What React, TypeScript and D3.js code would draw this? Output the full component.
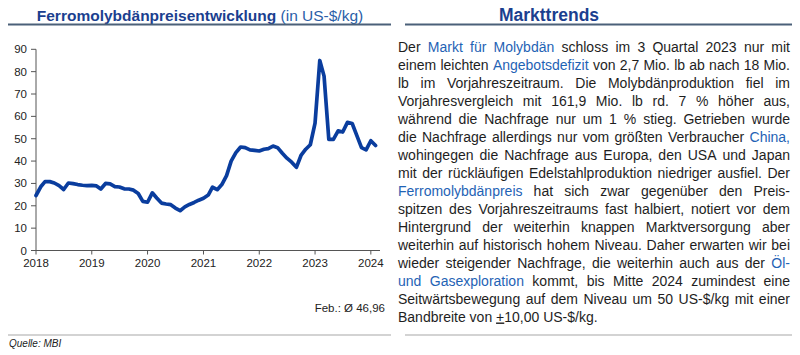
import React, { useMemo } from "react";
import * as d3 from "d3";

const years = ["2018", "2019", "2020", "2021", "2022", "2023", "2024"];
const yTicks = [0, 10, 20, 30, 40, 50, 60, 70, 80, 90];
const startYear = 2018;
// monthly ferromolybdenum price (US-$/kg), Jan 2018 .. Feb 2024
const prices = [
  24.6, 28.5, 30.8, 30.8, 30.2, 29.0, 27.3, 30.2, 29.9, 29.5, 29.2, 29.0,
  29.1, 28.9, 27.5, 30.0, 29.8, 28.6, 28.4, 27.6, 27.5, 27.0, 25.5, 22.0,
  21.6, 25.8, 23.5, 21.2, 20.8, 20.5, 19.0, 17.8, 19.5, 20.6, 21.5, 22.5,
  23.4, 24.8, 28.3, 27.2, 29.5, 33.5, 40.0, 43.8, 46.3, 46.0, 45.0, 44.8,
  44.5, 45.3, 45.6, 46.7, 46.0, 43.5, 41.3, 39.5, 37.2, 42.5, 45.3, 47.3,
  57.0, 85.0, 78.0, 49.7, 49.7, 53.5, 53.0, 57.3, 56.8, 51.5, 46.0, 45.0,
  49.1, 46.96,
];

const chartTitle = "Ferromolybdänpreisentwicklung";
const chartUnit = " (in US-$/kg)";
const lastLabel = "Feb.: Ø 46,96";
const source = "Quelle: MBI";
const sideTitle = "Markttrends";

// text lines; segments marked with * are blue, _ underlined
const paragraph = [
  "Der *Markt für Molybdän* schloss im 3 Quartal 2023 nur mit",
  "einem leichten *Angebotsdefizit* von 2,7 Mio. lb ab nach 18 Mio.",
  "lb im Vorjahreszeitraum. Die Molybdänproduktion fiel im",
  "Vorjahresvergleich mit 161,9 Mio. lb rd. 7 % höher aus,",
  "während die Nachfrage nur um 1 % stieg. Getrieben wurde",
  "die Nachfrage allerdings nur vom größten Verbraucher *China,*",
  "wohingegen die Nachfrage aus Europa, den USA und Japan",
  "mit der rückläufigen Edelstahlproduktion niedriger ausfiel. Der",
  "*Ferromolybdänpreis* hat sich zwar gegenüber den Preis-",
  "spitzen des Vorjahreszeitraums fast halbiert, notiert vor dem",
  "Hintergrund der weiterhin knappen Marktversorgung aber",
  "weiterhin auf historisch hohem Niveau. Daher erwarten wir bei",
  "wieder steigender Nachfrage, die weiterhin auch aus der *Öl-*",
  "*und Gasexploration* kommt, bis Mitte 2024 zumindest eine",
  "Seitwärtsbewegung auf dem Niveau um 50 US-$/kg mit einer",
  "Bandbreite von _+_10,00 US-$/kg.",
];

const FONT = "'Liberation Sans', Arial, sans-serif";
const BLUE_TEXT = "#1f63b5";
const LINE_BLUE = "#0a3d9e";

type Word = { parts: { t: string; blue: boolean; ul: boolean }[]; w: number };

function parseLine(line: string, measure: (s: string) => number): Word[] {
  const words: Word[] = [];
  let blue = false;
  let ul = false;
  let cur: Word = { parts: [], w: 0 };
  let buf = "";
  const flush = () => {
    if (buf) {
      cur.parts.push({ t: buf, blue, ul });
      buf = "";
    }
  };
  for (const ch of line) {
    if (ch === "*") {
      flush();
      blue = !blue;
    } else if (ch === "_") {
      flush();
      ul = !ul;
    } else if (ch === " ") {
      flush();
      if (cur.parts.length) words.push(cur);
      cur = { parts: [], w: 0 };
    } else buf += ch;
  }
  flush();
  if (cur.parts.length) words.push(cur);
  words.forEach((w) => (w.w = measure(w.parts.map((p) => p.t).join(""))));
  return words;
}

export default function App() {
  const W = 800;
  const H = 355;

  const x = d3
    .scaleTime()
    .domain([new Date(2018, 0, 1), new Date(2024, 2, 1)])
    .range([36, 380]);
  const y = d3.scaleLinear().domain([0, 90]).range([250.5, 49.3]);

  const data = prices.map((v, i) => ({
    d: new Date(startYear, i, 1),
    v,
  }));
  const line = d3
    .line<{ d: Date; v: number }>()
    .x((p) => x(p.d))
    .y((p) => y(p.v))
    .curve(d3.curveLinear);

  const fontSize = 14;
  const measure = useMemo(() => {
    const c = document.createElement("canvas").getContext("2d")!;
    c.font = `${fontSize}px ${FONT}`;
    return (s: string) => c.measureText(s).width;
  }, []);
  const spaceW = measure(" ");

  const tx0 = 398;
  const tx1 = 790;
  const ty0 = 51.5;
  const lh = 18;

  return (
    <svg width={W} height={H} style={{ position: "absolute", left: 0, top: 0, background: "#fff" }} fontFamily={FONT}>
      {/* left title */}
      <text x={200} y={21} textAnchor="middle" fontSize={15.5}>
        <tspan fill="#1b3f8f" fontWeight="bold">{chartTitle}</tspan>
        <tspan fill="#2a5ea8">{chartUnit}</tspan>
      </text>
      <line x1={8} x2={391} y1={24.5} y2={24.5} stroke="#4b6079" strokeWidth={2} />

      {/* right title */}
      <text x={549} y={21} textAnchor="middle" fontSize={17.5} fontWeight="bold" fill="#1b3f8f">
        {sideTitle}
      </text>
      <line x1={405} x2={792} y1={24.5} y2={24.5} stroke="#4b6079" strokeWidth={2} />

      {/* y axis */}
      <line x1={36} x2={36} y1={y(90)} y2={y(0)} stroke="#555" strokeWidth={1} />
      {yTicks.map((t) => (
        <g key={t}>
          <line x1={31} x2={36} y1={y(t)} y2={y(t)} stroke="#555" />
          <text x={27} y={y(t) + 4} textAnchor="end" fontSize={11.5} fill="#222">
            {t}
          </text>
        </g>
      ))}
      {/* x axis */}
      <line x1={36} x2={380} y1={y(0)} y2={y(0)} stroke="#555" />
      {years.map((yr) => {
        const px = x(new Date(+yr, 0, 1));
        return (
          <g key={yr}>
            <line x1={px} x2={px} y1={y(0)} y2={y(0) + 4} stroke="#555" />
            <text x={px} y={267} textAnchor="middle" fontSize={11.5} fill="#222">
              {yr}
            </text>
          </g>
        );
      })}

      <path d={line(data) || ""} fill="none" stroke={LINE_BLUE} strokeWidth={3.7} strokeLinejoin="round" strokeLinecap="round" />

      <text x={385} y={312} textAnchor="end" fontSize={11.5} fill="#222">
        {lastLabel}
      </text>
      <line x1={8} x2={391} y1={335} y2={335} stroke="#c4c4c4" strokeWidth={1.5} />
      <text x={9} y={347} fontSize={10} fontStyle="italic" fill="#222">
        {source}
      </text>

      {/* paragraph */}
      {paragraph.map((ln, li) => {
        const words = parseLine(ln, measure);
        const total = words.reduce((s, w) => s + w.w, 0);
        const last = li === paragraph.length - 1;
        const gap = last || words.length < 2 ? spaceW : (tx1 - tx0 - total) / (words.length - 1);
        let cx = tx0;
        const yy = ty0 + li * lh;
        return (
          <g key={li}>
            {words.map((w, wi) => {
              const px = cx;
              cx += w.w + gap;
              return (
                <text key={wi} x={px} y={yy} fontSize={fontSize} fill="#1e1e1e">
                  {w.parts.map((p, pi) => (
                    <tspan key={pi} fill={p.blue ? BLUE_TEXT : "#1e1e1e"} textDecoration={p.ul ? "underline" : undefined}>
                      {p.t}
                    </tspan>
                  ))}
                </text>
              );
            })}
          </g>
        );
      })}
      <line x1={405} x2={792} y1={335} y2={335} stroke="#c4c4c4" strokeWidth={1.5} />
    </svg>
  );
}
